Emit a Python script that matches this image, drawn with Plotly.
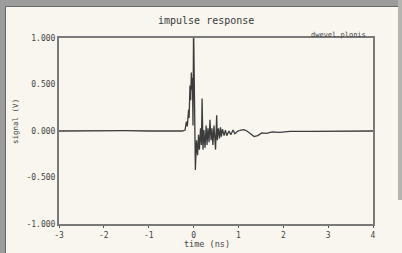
import plotly.graph_objects as go

# Data (time in ns, signal in V)
time_ns = [-3.0, -2.5, -2.0, -1.5, -1.0, -0.5, -0.25, -0.19, -0.16, -0.14, -0.11, -0.10,
           -0.08, -0.065, -0.05, -0.035, -0.025, -0.013, 0.0, 0.04, 0.065, 0.09, 0.11,
           0.13, 0.155, 0.175, 0.19, 0.21, 0.23, 0.255, 0.28, 0.30, 0.32, 0.345, 0.365,
           0.39, 0.41, 0.43, 0.455, 0.49, 0.515, 0.53, 0.555, 0.58, 0.60, 0.62, 0.645,
           0.68, 0.71, 0.74, 0.79, 0.83, 0.88, 0.92, 0.99, 1.06, 1.12, 1.19, 1.26, 1.35,
           1.43, 1.52, 1.63, 1.75, 1.92, 2.15, 2.59, 3.26, 4.0]
signal_v = [0.0, 0.003, 0.0, 0.004, 0.0, 0.005, 0.0, 0.01, 0.10, 0.05, 0.23, 0.14,
            0.49, 0.33, 0.63, 0.44, 0.57, 0.06, 1.15, -0.42, -0.10, -0.26, -0.04,
            -0.20, 0.03, -0.15, 0.35, -0.20, 0.01, -0.18, 0.06, -0.15, 0.03, -0.12, 0.12,
            -0.10, 0.03, -0.15, 0.06, -0.20, 0.17, -0.10, 0.03, -0.08, 0.04, -0.06, 0.02,
            -0.05, 0.01, -0.05, 0.0, -0.04, 0.01, -0.03, 0.0, 0.01, 0.015, 0.0, -0.03, -0.06,
            -0.05, -0.02, -0.025, -0.01, -0.015, -0.005, -0.005, 0.0, 0.0]

x_ticks = [-3, -2, -1, 0, 1, 2, 3, 4]
x_tick_labels = ["-3", "-2", "-1", "0", "1", "2", "3", "4"]
y_ticks = [1.0, 0.5, 0.0, -0.5, -1.0]
y_tick_labels = ["1.000", "0.500", "0.000", "-0.500", "-1.000"]

W, H = 402, 253
L, R, T, B = 59, 29, 38, 29
pw, ph = W - L - R, H - T - B

def px(x):
    return (x - L) / pw

def py(y):
    return 1 - (y - T) / ph

mono = "DejaVu Sans Mono"
cream = "#f8f6ef"
txt = "#444"

fig = go.Figure()
fig.add_trace(go.Scatter(x=time_ns, y=signal_v, mode="lines",
                         line=dict(color="#3c3c3c", width=1.3), showlegend=False))

fig.update_layout(
    width=W, height=H,
    margin=dict(l=L, r=R, t=T, b=B),
    paper_bgcolor=cream, plot_bgcolor=cream,
    xaxis=dict(range=[-3, 4], tickvals=x_ticks, ticktext=x_tick_labels,
               showgrid=False, zeroline=False, showline=True, mirror=True,
               linecolor="#7a7a7a", linewidth=2, ticks="outside", ticklen=2,
               tickcolor="#555", tickfont=dict(family=mono, size=8, color=txt)),
    yaxis=dict(range=[-1, 1], tickvals=y_ticks, ticktext=y_tick_labels,
               showgrid=False, zeroline=False, showline=True, mirror=True,
               linecolor="#7a7a7a", linewidth=2, ticks="", ticklen=2,
               tickfont=dict(family=mono, size=8, color=txt)),
    shapes=[
        # gray outer frame
        dict(type="rect", xref="paper", yref="paper", x0=px(0), x1=px(5), y0=py(253), y1=py(0),
             fillcolor="#9c9c9c", line=dict(width=0), layer="below"),
        dict(type="rect", xref="paper", yref="paper", x0=px(0), x1=px(402), y0=py(6), y1=py(0),
             fillcolor="#9c9c9c", line=dict(width=0), layer="below"),
        dict(type="rect", xref="paper", yref="paper", x0=px(398), x1=px(402), y0=py(200), y1=py(0),
             fillcolor="#b4b4b0", line=dict(width=0), layer="below"),
        dict(type="line", xref="paper", yref="paper", x0=px(5.5), x1=px(5.5), y0=py(253), y1=py(6),
             line=dict(color="#6a6a6a", width=1)),
        dict(type="line", xref="paper", yref="paper", x0=px(5), x1=px(398), y0=py(6.5), y1=py(6.5),
             line=dict(color="#6a6a6a", width=1)),
    ],
    annotations=[
        dict(text="impulse response", xref="paper", yref="paper", x=px(206), y=py(20),
             showarrow=False, font=dict(family=mono, size=10, color="#3a3a3a"),
             xanchor="center", yanchor="middle"),
        dict(text="dwevel.plonis", xref="paper", yref="paper", x=px(368), y=py(34.5),
             showarrow=False, font=dict(family=mono, size=7, color=txt),
             xanchor="right", yanchor="middle"),
        dict(text="time (ns)", xref="paper", yref="paper", x=px(207), y=py(244),
             showarrow=False, font=dict(family=mono, size=8.5, color=txt),
             xanchor="center", yanchor="middle"),
        dict(text="signal (V)", xref="paper", yref="paper", x=px(15), y=py(122),
             showarrow=False, textangle=-90, font=dict(family=mono, size=7.5, color=txt),
             xanchor="center", yanchor="middle"),
    ],
)

fig.write_html(
    "out.html",
    config={"displayModeBar": False},
    post_script="document.body.style.margin='0';document.body.style.padding='0';"
                "document.body.style.overflow='hidden';",
)
